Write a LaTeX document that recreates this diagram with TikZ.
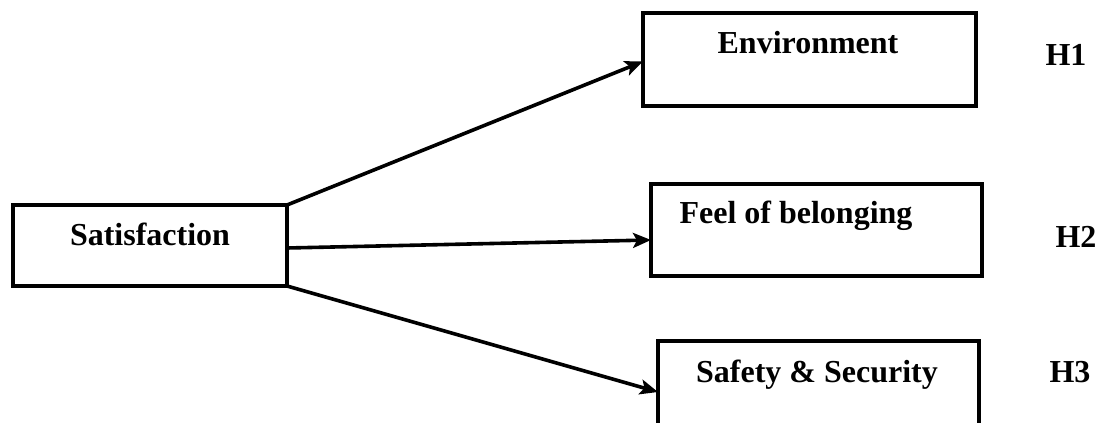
\documentclass[tikz,border=0pt]{standalone}
\usepackage{fontspec}
\setmainfont{Liberation Serif}
\usetikzlibrary{arrows.meta}
\begin{document}
\begin{tikzpicture}[x=1pt,y=-1pt,
  box/.style={draw, line width=4pt, rectangle, inner sep=0pt, outer sep=0pt},
  lbl/.style={anchor=base, inner sep=0pt, font=\fontsize{32}{36}\selectfont\bfseries},
  conn/.style={line width=3.6pt, -{Stealth[length=18pt,width=15pt,inset=4pt]}}]
\useasboundingbox (0,0) rectangle (1101,423);
\clip (0,0) rectangle (1101,423);
\node[box, minimum width=274pt, minimum height=81pt] (sat) at (150,245.5) {};
\node[box, minimum width=333pt, minimum height=93pt] (env) at (809.5,59.5) {};
\node[box, minimum width=331pt, minimum height=92pt] (feel) at (816.5,230) {};
\node[box, minimum width=321pt, minimum height=95pt] (safe) at (818.5,388.5) {};
\node[lbl] (tsat) at (150,245) {Satisfaction};
\node[lbl] (tenv) at (808,53) {Environment};
\node[lbl] (tfeel) at (796,223) {Feel of belonging};
\node[lbl] (tsafe) at (817,382) {Safety \& Security};
\node[lbl] (h1) at (1066,65) {H1};
\node[lbl] (h2) at (1076,247) {H2};
\node[lbl] (h3) at (1070,382) {H3};
\draw[conn] (sat.north east) -- ([yshift=-2pt]env.west);
\draw[conn] ([yshift=-2.5pt]sat.east) -- ([yshift=-10pt]feel.west);
\draw[conn] (sat.south east) -- ([yshift=-3.5pt]safe.west);
\end{tikzpicture}
\end{document}
